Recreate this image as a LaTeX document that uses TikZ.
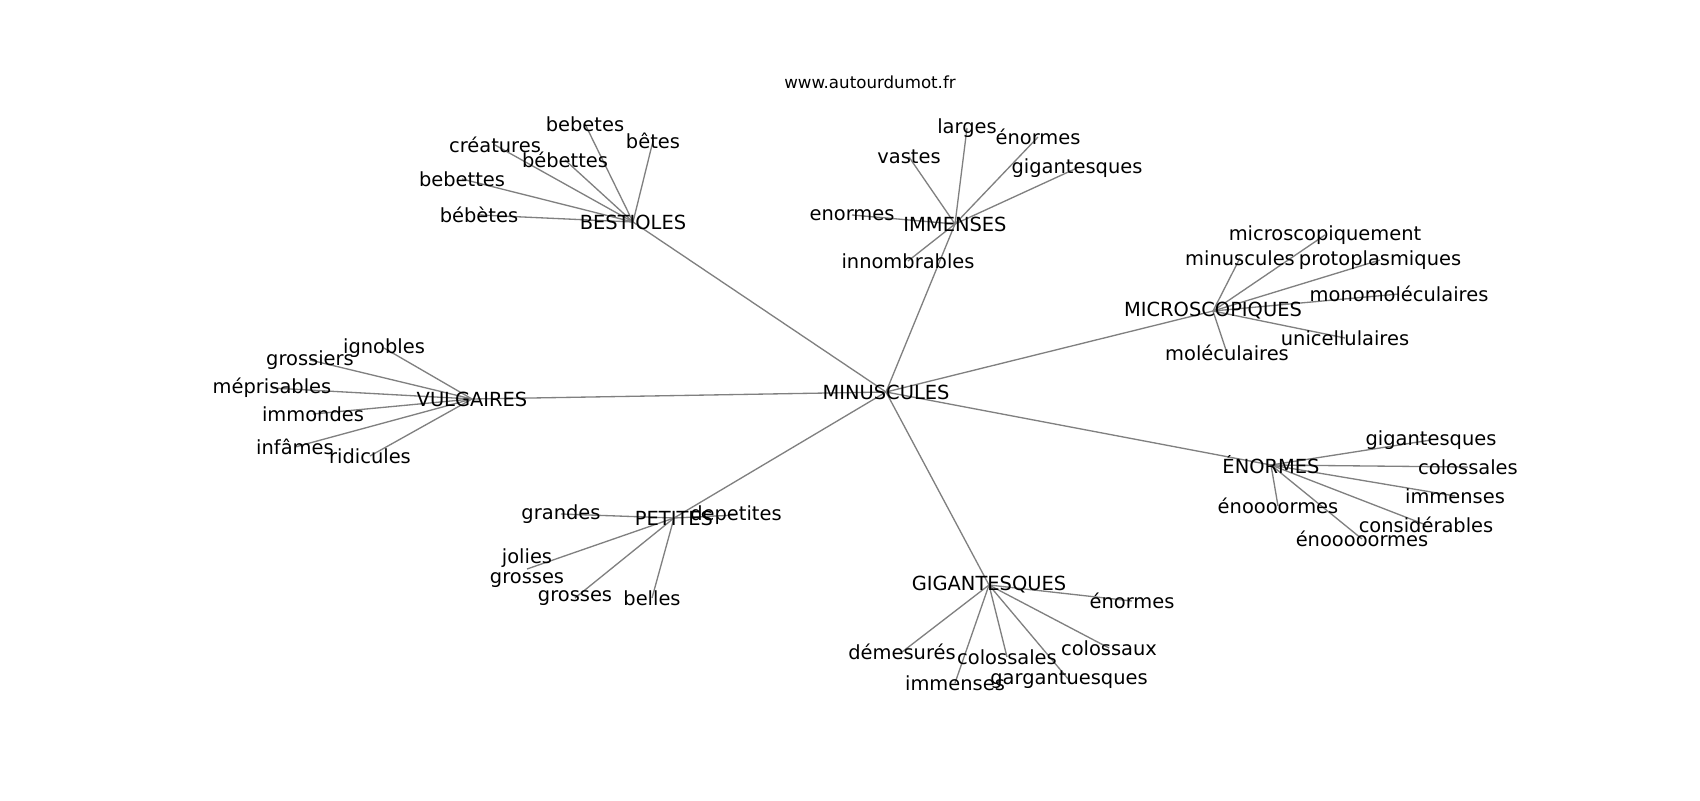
\documentclass[tikz,border=0pt]{standalone}
\usepackage{fontspec}
\setmainfont{DejaVu Sans}
\pgfdeclarelayer{bg}
\pgfsetlayers{bg,main}
\begin{document}
\begin{tikzpicture}[x=0.72pt,y=-0.72pt,
  lbl/.style={inner sep=0pt,outer sep=0pt,anchor=center,font=\fontsize{14}{17}\selectfont},
  ttl/.style={inner sep=0pt,anchor=center,font=\fontsize{12}{14}\selectfont},
  link/.style={draw=black!50,line width=0.95pt}]
\useasboundingbox (0,0) rectangle (1700,800);
\node[ttl] (title) at (870,82) {www.autourdumot.fr};
% hub
\node[lbl] (min) at (886,392) {MINUSCULES};
% BESTIOLES
\node[lbl] (best) at (633,222) {BESTIOLES};
\node[lbl] (b1) at (585,124) {bebetes};
\node[lbl] (b2) at (653,141) {bêtes};
\node[lbl] (b3) at (495,145) {créatures};
\node[lbl] (b4) at (565,160) {bébettes};
\node[lbl] (b5) at (462,179) {bebettes};
\node[lbl] (b6) at (479,215) {bébètes};
% IMMENSES
\node[lbl] (imm) at (955,224) {IMMENSES};
\node[lbl] (i1) at (967,128) {larges};
\node[lbl] (i2) at (1038,137) {énormes};
\node[lbl] (i3) at (909,157) {vastes};
\node[lbl] (i4) at (1077,168) {gigantesques};
\node[lbl] (i5) at (852,215) {enormes};
\node[lbl] (i6) at (908,261) {innombrables};
% MICROSCOPIQUES
\node[lbl] (mic) at (1213,311) {MICROSCOPIQUES};
\node[lbl] (m1) at (1325,235) {microscopiquement};
\node[lbl] (m2) at (1240,258) {minuscules};
\node[lbl] (m3) at (1380,260) {protoplasmiques};
\node[lbl] (m4) at (1399,294) {monomoléculaires};
\node[lbl] (m5) at (1345,338) {unicellulaires};
\node[lbl] (m6) at (1227,353) {moléculaires};
% VULGAIRES
\node[lbl] (vul) at (472,399) {VULGAIRES};
\node[lbl] (v1) at (384,348) {ignobles};
\node[lbl] (v2) at (310,360) {grossiers};
\node[lbl] (v3) at (272,388) {méprisables};
\node[lbl] (v4) at (313,414) {immondes};
\node[lbl] (v5) at (295,447) {infâmes};
\node[lbl] (v6) at (370,456) {ridicules};
% ENORMES
\node[lbl] (eno) at (1271,465) {ÉNORMES};
\node[lbl] (e1) at (1431,440) {gigantesques};
\node[lbl] (e2) at (1468,467) {colossales};
\node[lbl] (e3) at (1455,496) {immenses};
\node[lbl] (e4) at (1426,525) {considérables};
\node[lbl] (e5) at (1278,506) {énoooormes};
\node[lbl] (e6) at (1362,539) {énooooormes};
% PETITES
\node[lbl] (pet) at (674,518) {PETITES};
\node[lbl] (p1) at (561,514) {grandes};
\node[lbl] (p2) at (736,515) {depetites};
\node[lbl] (p3) at (527,558) {jolies};
\node[lbl] (p4) at (527,580) {grosses};
\node[lbl] (p5) at (575,598) {grosses};
\node[lbl] (p6) at (652,598) {belles};
\coordinate (p34) at (527,569);
% GIGANTESQUES
\node[lbl] (gig) at (989,585) {GIGANTESQUES};
\node[lbl] (g1) at (1132,601) {énormes};
\node[lbl] (g2) at (1109,648) {colossaux};
\node[lbl] (g3) at (902,652) {démesurés};
\node[lbl] (g4) at (1007,657) {colossales};
\node[lbl] (g5) at (1069,680) {gargantuesques};
\node[lbl] (g6) at (955,683) {immenses};
\begin{pgfonlayer}{bg}
\fill[white] (0,0) rectangle (1700,800);
\foreach \h in {best,imm,mic,vul,eno,pet,gig} \draw[link] (min.center) -- (\h.center);
\foreach \n in {b1,b2,b3,b4,b5,b6} \draw[link] (best.center) -- (\n.center);
\foreach \n in {i1,i2,i3,i4,i5,i6} \draw[link] (imm.center) -- (\n.center);
\foreach \n in {m1,m2,m3,m4,m5,m6} \draw[link] (mic.center) -- (\n.center);
\foreach \n in {v1,v2,v3,v4,v5,v6} \draw[link] (vul.center) -- (\n.center);
\foreach \n in {e1,e2,e3,e4,e5,e6} \draw[link] (eno.center) -- (\n.center);
\foreach \n in {p1,p2,p5,p6} \draw[link] (pet.center) -- (\n.center);
\draw[link] (pet.center) -- (p34);
\foreach \n in {g1,g2,g3,g4,g5,g6} \draw[link] (gig.center) -- (\n.center);
\end{pgfonlayer}
\end{tikzpicture}
\end{document}
